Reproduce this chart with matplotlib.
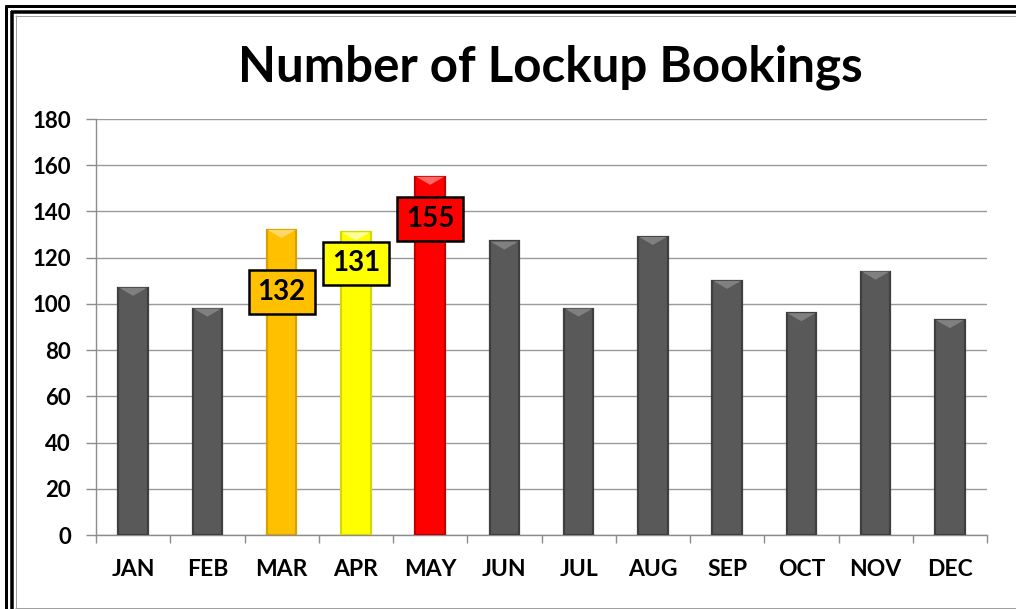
import matplotlib
matplotlib.use("Agg")
import matplotlib.pyplot as plt
from matplotlib.patches import Polygon
from matplotlib.lines import Line2D
import numpy as np

months = ["JAN", "FEB", "MAR", "APR", "MAY", "JUN", "JUL", "AUG", "SEP", "OCT", "NOV", "DEC"]
bookings = [107, 98, 132, 131, 155, 127, 98, 129, 110, 96, 114, 93]
title = "Number of Lockup Bookings"
yticks = [0, 20, 40, 60, 80, 100, 120, 140, 160, 180]

# styling
gray_face, gray_edge, gray_bevel = "#595959", "#3f3f3f", "#808080"
highlight = {
    "MAR": ("#FFC000", "#D9A000", "#FFD966"),
    "APR": ("#FFFF00", "#D6D600", "#FFFF99"),
    "MAY": ("#FF0000", "#C00000", "#FF6666"),
}
label_offsets = {"MAR": -27, "APR": -13.5, "MAY": -18.3}

FONT = "Lato"
W, H = 1016, 609
fig = plt.figure(figsize=(W / 100, H / 100), dpi=100)
ax = fig.add_axes([96 / W, 1 - 535 / H, (987 - 96) / W, (535 - 119) / H])

x = np.arange(len(months))
faces = [highlight.get(m, (gray_face,))[0] for m in months]
edges = [highlight.get(m, (gray_face, gray_edge))[1] for m in months]
bevels = [highlight.get(m, (gray_face, gray_edge, gray_bevel))[2] for m in months]

bars = ax.bar(x, bookings, width=0.4, color=faces, edgecolor=edges, linewidth=1.6, zorder=3)

# top bevel
bev_h = 3.5
for b, bc in zip(bars, bevels):
    x0 = b.get_x()
    x1 = x0 + b.get_width()
    h = b.get_height()
    xc = x0 + b.get_width() / 2
    poly = Polygon([(x0 + 0.01, h), (x1 - 0.01, h), (xc, h - bev_h)], closed=True,
                   facecolor=bc, edgecolor="none", zorder=4)
    ax.add_patch(poly)

# data labels
for i, m in enumerate(months):
    if m in label_offsets:
        ax.text(x[i], bookings[i] + label_offsets[m], str(bookings[i]), ha="center", va="center",
                fontsize=20, fontweight="bold", family=FONT, color="black", zorder=6,
                bbox=dict(boxstyle="square,pad=0.32", facecolor=faces[i], edgecolor="black", linewidth=1.8))

ax.set_xlim(-0.5, len(months) - 0.5)
ax.set_ylim(0, 180)
ax.set_yticks(yticks)
ax.set_yticklabels([str(v) for v in yticks], fontsize=16, fontweight="bold", family=FONT)
ax.set_xticks(x)
ax.set_xticklabels(months, fontsize=16.5, fontweight="bold", family=FONT)
ax.set_xticks(np.arange(-0.5, len(months)), minor=True)
ax.tick_params(axis="x", which="major", length=0, pad=17)
ax.tick_params(axis="x", which="minor", length=6, color="#8c8c8c", width=1)
ax.tick_params(axis="y", length=7, color="#8c8c8c", width=1, pad=11)
ax.yaxis.grid(True, color="#9a9a9a", linewidth=1, zorder=0)
ax.set_axisbelow(True)
for s in ["top", "right"]:
    ax.spines[s].set_visible(False)
for s in ["left", "bottom"]:
    ax.spines[s].set_color("#8c8c8c")
    ax.spines[s].set_linewidth(1)

fig.text(550 / W, 1 - 67 / H, title, ha="center", va="center", fontsize=35.5,
         fontweight="bold", family=FONT)

# frame borders (pixel coords -> figure fraction)
def hline(ypx, lw_px, color, x0px=0, x1px=W):
    fig.add_artist(Line2D([x0px / W, x1px / W], [1 - ypx / H, 1 - ypx / H],
                          color=color, linewidth=lw_px * 0.72, solid_capstyle="butt"))

def vline(xpx, lw_px, color, y0px, y1px=H):
    fig.add_artist(Line2D([xpx / W, xpx / W], [1 - y0px / H, 1 - y1px / H],
                          color=color, linewidth=lw_px * 0.72, solid_capstyle="butt"))

hline(6, 3, "black", 5)
vline(6, 3, "black", 5)
hline(12, 3.5, "black", 10.5)
vline(12, 3.5, "black", 10.5)
hline(15.5, 1, "#a0a0a0", 15)
vline(15.5, 1, "#a0a0a0", 15)
hline(608, 1, "#a0a0a0", 15)

fig.savefig("out.png", dpi=100)
